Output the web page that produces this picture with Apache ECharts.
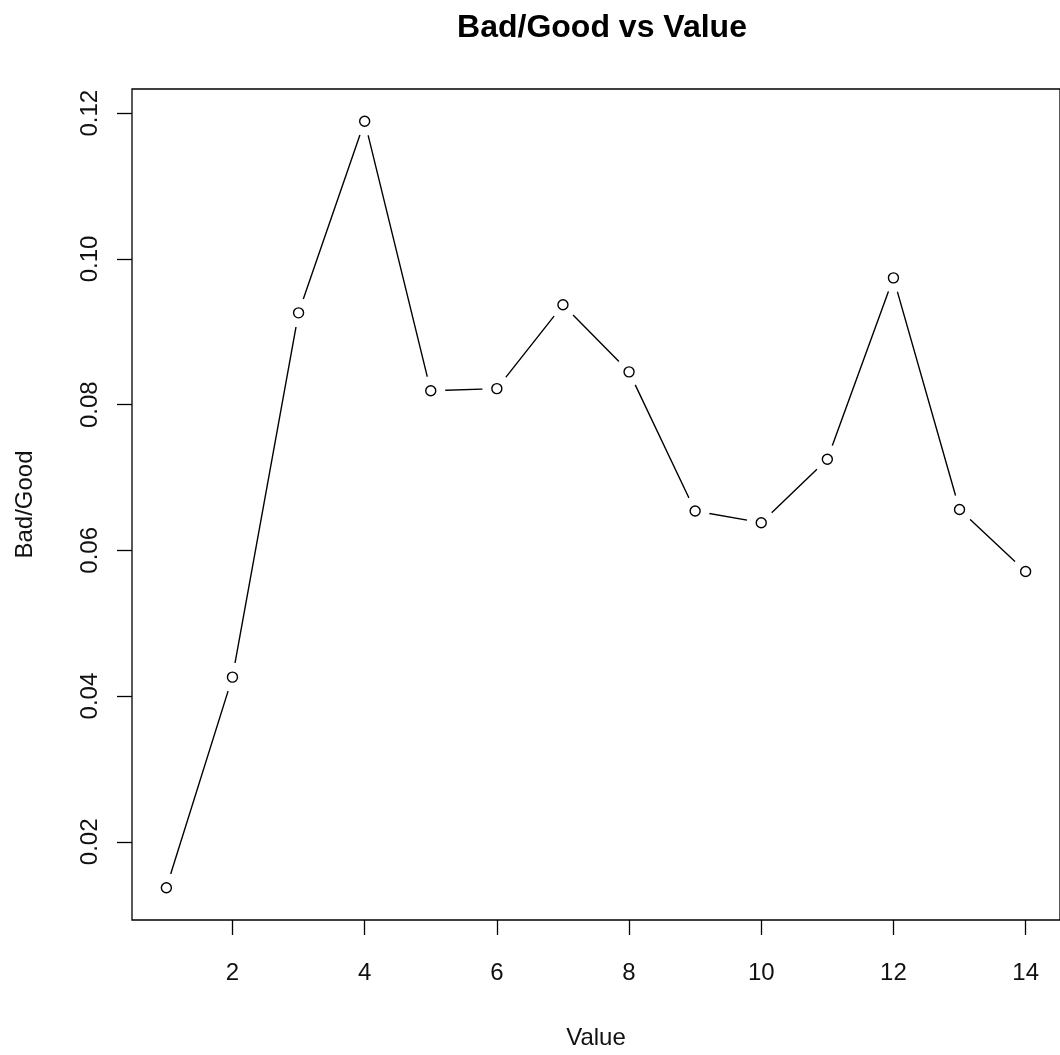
<!DOCTYPE html>
<html>
<head>
<meta charset="utf-8">
<script src="https://cdn.jsdelivr.net/npm/echarts@6/dist/echarts.min.js"></script>
<style>
  html, body { margin: 0; padding: 0; background: #ffffff; }
  #chart { width: 1060px; height: 1055px; }
</style>
</head>
<body>
<div id="chart"></div>
<script>
// ---- data ----
const values = [1, 2, 3, 4, 5, 6, 7, 8, 9, 10, 11, 12, 13, 14];
const badGood = [0.0137, 0.0426, 0.0926, 0.1189, 0.0819, 0.0822, 0.0937, 0.0845, 0.0654, 0.0638, 0.0725, 0.0974, 0.0656, 0.0571];
const xTicks = [2, 4, 6, 8, 10, 12, 14];
const yTicks = [0.02, 0.04, 0.06, 0.08, 0.10, 0.12];
const titleText = 'Bad/Good vs Value';
const xName = 'Value';
const yName = 'Bad/Good';

const points = values.map((v, i) => [v, badGood[i]]);
const FONT = '"Liberation Sans", Arial, sans-serif';

const chart = echarts.init(document.getElementById('chart'), null, { renderer: 'canvas' });
chart.setOption({
  backgroundColor: '#ffffff',
  animation: false,
  title: {
    text: titleText,
    left: 597, textAlign: 'center',
    top: 7,
    textStyle: { fontFamily: FONT, fontSize: 32, fontWeight: 'bold', color: '#000' }
  },
  grid: {
    left: 132, right: -2, top: 89, bottom: 134,
    show: true, borderColor: '#000', borderWidth: 1.3, backgroundColor: 'transparent'
  },
  xAxis: {
    type: 'value', min: 0.48, max: 14.52,
    name: xName, nameLocation: 'middle', nameGap: 106,
    nameTextStyle: { fontFamily: FONT, fontSize: 24, color: '#111' },
    axisLine: { show: false },
    splitLine: { show: false },
    axisTick: { show: true, customValues: xTicks, length: 15, inside: false, lineStyle: { color: '#000', width: 1.3 } },
    axisLabel: { customValues: xTicks, margin: 41, fontFamily: FONT, fontSize: 24, color: '#111' }
  },
  yAxis: {
    type: 'value', min: 0.00927, max: 0.12332,
    name: yName, nameLocation: 'middle', nameGap: 95, nameRotate: 90,
    nameTextStyle: { fontFamily: FONT, fontSize: 24, color: '#111' },
    axisLine: { show: false },
    splitLine: { show: false },
    axisTick: { show: true, customValues: yTicks, length: 15, inside: false, lineStyle: { color: '#000', width: 1.3 } },
    axisLabel: { customValues: yTicks, rotate: 90, margin: 30, fontFamily: FONT, fontSize: 24, color: '#111',
      formatter: v => v.toFixed(2) }
  },
  series: [
    {
      type: 'line', data: points, showSymbol: false, silent: true,
      lineStyle: { color: '#000', width: 1.4 }, z: 2
    },
    {
      type: 'scatter', data: points, symbol: 'circle', symbolSize: 29, silent: true,
      itemStyle: { color: '#ffffff', borderWidth: 0, opacity: 1 }, z: 3
    },
    {
      type: 'scatter', data: points, symbol: 'circle', symbolSize: 10, silent: true,
      itemStyle: { color: '#ffffff', borderColor: '#000', borderWidth: 1.4, opacity: 1 }, z: 4
    }
  ]
});
</script>
</body>
</html>
